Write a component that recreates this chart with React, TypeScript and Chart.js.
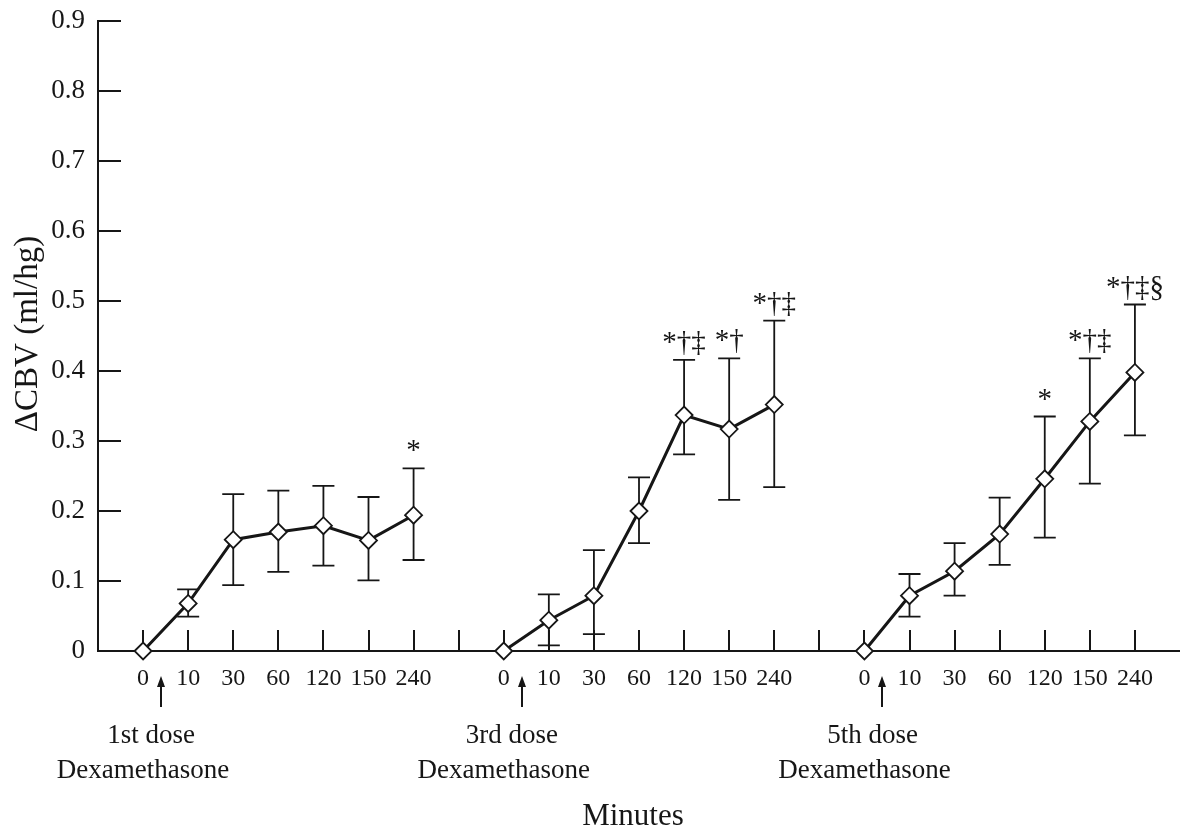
import React, { useEffect, useRef } from 'react';
import { Chart, registerables } from 'chart.js';

Chart.register(...registerables);

const FONT = '"Liberation Serif", "Times New Roman", Times, serif';
const INK = '#161616';

// ---- data ----
const minuteLabels = ['0', '10', '30', '60', '120', '150', '240'];
const doseLabels = ['1st dose', '3rd dose', '5th dose'];
const drugLabel = 'Dexamethasone';
const xTitle = 'Minutes';
const yTitle = 'ΔCBV (ml/hg)';

const dose1Mean = [0, 0.068, 0.159, 0.170, 0.179, 0.158, 0.194];
const dose1Upper = [0, 0.088, 0.224, 0.229, 0.236, 0.220, 0.261];
const dose1Lower = [0, 0.049, 0.094, 0.113, 0.122, 0.101, 0.130];
const dose1Marks = ['', '', '', '', '', '', '*'];

const dose3Mean = [0, 0.044, 0.079, 0.200, 0.337, 0.317, 0.352];
const dose3Upper = [0, 0.081, 0.144, 0.248, 0.416, 0.418, 0.472];
const dose3Lower = [0, 0.008, 0.024, 0.154, 0.281, 0.216, 0.234];
const dose3Marks = ['', '', '', '', '*†‡', '*†', '*†‡'];

const dose5Mean = [0, 0.079, 0.114, 0.167, 0.246, 0.328, 0.398];
const dose5Upper = [0, 0.110, 0.154, 0.219, 0.335, 0.418, 0.495];
const dose5Lower = [0, 0.049, 0.079, 0.123, 0.162, 0.239, 0.308];
const dose5Marks = ['', '', '', '', '*', '*†‡', '*†‡§'];

const yMin = 0;
const yMax = 0.9;
const yStep = 0.1;

const groups = [
  { mean: dose1Mean, upper: dose1Upper, lower: dose1Lower, marks: dose1Marks, dose: doseLabels[0] },
  { mean: dose3Mean, upper: dose3Upper, lower: dose3Lower, marks: dose3Marks, dose: doseLabels[1] },
  { mean: dose5Mean, upper: dose5Upper, lower: dose5Lower, marks: dose5Marks, dose: doseLabels[2] },
];
const STRIDE = minuteLabels.length + 1; // one empty slot between groups
const LAST = STRIDE * (groups.length - 1) + minuteLabels.length - 1;

const decorPlugin = {
  id: 'decor',
  beforeDatasetsDraw(chart: any) {
    const { ctx, chartArea, scales } = chart;
    const xs = scales.x;
    const ys = scales.y;
    const { left, bottom } = chartArea;
    ctx.save();
    ctx.strokeStyle = INK;
    ctx.lineWidth = 2;
    ctx.beginPath();
    xs.ticks.forEach((t: any) => {
      if (t.value < 0 || t.value > LAST) return;
      const px = Math.round(xs.getPixelForValue(t.value));
      ctx.moveTo(px, bottom);
      ctx.lineTo(px, bottom - 21);
    });
    ys.ticks.forEach((t: any) => {
      if (t.value <= yMin) return;
      const py = Math.round(ys.getPixelForValue(t.value));
      ctx.moveTo(left, py);
      ctx.lineTo(left + 23, py);
    });
    ctx.stroke();

    // error bars
    ctx.lineWidth = 1.8;
    ctx.beginPath();
    groups.forEach((g, gi) => {
      g.mean.forEach((_m, i) => {
        if (g.upper[i] === g.lower[i]) return;
        const px = xs.getPixelForValue(gi * STRIDE + i);
        const pu = ys.getPixelForValue(g.upper[i]);
        const pl = ys.getPixelForValue(g.lower[i]);
        ctx.moveTo(px, pu);
        ctx.lineTo(px, pl);
        ctx.moveTo(px - 11, pu);
        ctx.lineTo(px + 11, pu);
        ctx.moveTo(px - 11, pl);
        ctx.lineTo(px + 11, pl);
      });
    });
    ctx.stroke();
    ctx.restore();
  },
  afterDatasetsDraw(chart: any) {
    const { ctx, chartArea, scales } = chart;
    const xs = scales.x;
    const ys = scales.y;
    const { left, right, top, bottom } = chartArea;
    ctx.save();
    ctx.fillStyle = INK;
    ctx.strokeStyle = INK;

    // significance marks
    ctx.font = `29px ${FONT}`;
    ctx.textAlign = 'center';
    ctx.textBaseline = 'alphabetic';
    groups.forEach((g, gi) => {
      g.marks.forEach((mk, i) => {
        if (!mk) return;
        const px = xs.getPixelForValue(gi * STRIDE + i);
        const pu = ys.getPixelForValue(g.upper[i]);
        ctx.fillText(mk, px, pu - 9);
      });
    });

    // dose arrows and labels
    groups.forEach((g, gi) => {
      const base = gi * STRIDE;
      const ax = Math.round(xs.getPixelForValue(base + 0.4));
      const tipY = bottom + 25;
      ctx.lineWidth = 2;
      ctx.beginPath();
      ctx.moveTo(ax, tipY + 8);
      ctx.lineTo(ax, bottom + 56);
      ctx.stroke();
      ctx.beginPath();
      ctx.moveTo(ax, tipY);
      ctx.lineTo(ax - 4, tipY + 11);
      ctx.lineTo(ax + 4, tipY + 11);
      ctx.closePath();
      ctx.fill();

      ctx.font = `27px ${FONT}`;
      ctx.textAlign = 'center';
      ctx.fillText(g.dose, xs.getPixelForValue(base + 0.18), bottom + 92);
      ctx.fillText(drugLabel, xs.getPixelForValue(base), bottom + 127);
    });

    // x title
    ctx.font = `31px ${FONT}`;
    ctx.textAlign = 'center';
    ctx.fillText(xTitle, (left + right) / 2 - 6, bottom + 174);

    // y title
    ctx.save();
    ctx.translate(37, (top + bottom) / 2 - 2);
    ctx.rotate(-Math.PI / 2);
    ctx.font = `33px ${FONT}`;
    ctx.textAlign = 'center';
    ctx.textBaseline = 'alphabetic';
    ctx.fillText(yTitle, 0, 0);
    ctx.restore();

    ctx.restore();
  },
};

export default function App() {
  const ref = useRef<HTMLCanvasElement>(null);

  useEffect(() => {
    if (!ref.current) return;
    const datasets = groups.map((g, gi) => ({
      data: g.mean.map((v, i) => ({ x: gi * STRIDE + i, y: v })),
      borderColor: INK,
      borderWidth: 3,
      pointStyle: 'rectRot',
      pointRadius: 8.5,
      pointBackgroundColor: '#ffffff',
      pointBorderColor: INK,
      pointBorderWidth: 1.8,
      tension: 0,
      clip: false as any,
    }));

    const chart = new Chart(ref.current, {
      type: 'line',
      data: { datasets: datasets as any },
      plugins: [decorPlugin],
      options: {
        animation: false,
        responsive: false,
        devicePixelRatio: 1,
        layout: { autoPadding: false, padding: { top: 21, right: 0, left: 0, bottom: 0 } },
        plugins: {
          legend: { display: false },
          tooltip: { enabled: false },
        },
        scales: {
          x: {
            type: 'linear',
            min: -1,
            max: LAST + 1,
            grid: { display: false, drawTicks: false },
            border: { display: true, color: INK, width: 2 },
            ticks: {
              stepSize: 1,
              autoSkip: false,
              maxRotation: 0,
              padding: 13,
              color: INK,
              font: { family: FONT, size: 24 },
              callback: (v: any) => {
                const n = Number(v);
                if (n < 0 || n > LAST) return '';
                const idx = n % STRIDE;
                return idx < minuteLabels.length ? minuteLabels[idx] : '';
              },
            },
            afterFit: (s: any) => {
              s.height = 175;
              s.paddingLeft = 0;
              s.paddingRight = 0;
            },
          },
          y: {
            type: 'linear',
            min: yMin,
            max: yMax,
            grid: { display: false, drawTicks: false },
            border: { display: true, color: INK, width: 2 },
            ticks: {
              stepSize: yStep,
              padding: 13,
              color: INK,
              font: { family: FONT, size: 27 },
              callback: (v: any) => (Number(v) === 0 ? '0' : Number(v).toFixed(1)),
            },
            afterFit: (s: any) => {
              s.width = 98;
              s.paddingTop = 0;
              s.paddingBottom = 0;
            },
          },
        },
      },
    });
    return () => chart.destroy();
  }, []);

  return (
    <div style={{ position: 'absolute', left: 0, top: 0, width: 1180, height: 826, background: '#ffffff' }}>
      <canvas ref={ref} width={1180} height={826} style={{ display: 'block' }} />
    </div>
  );
}
